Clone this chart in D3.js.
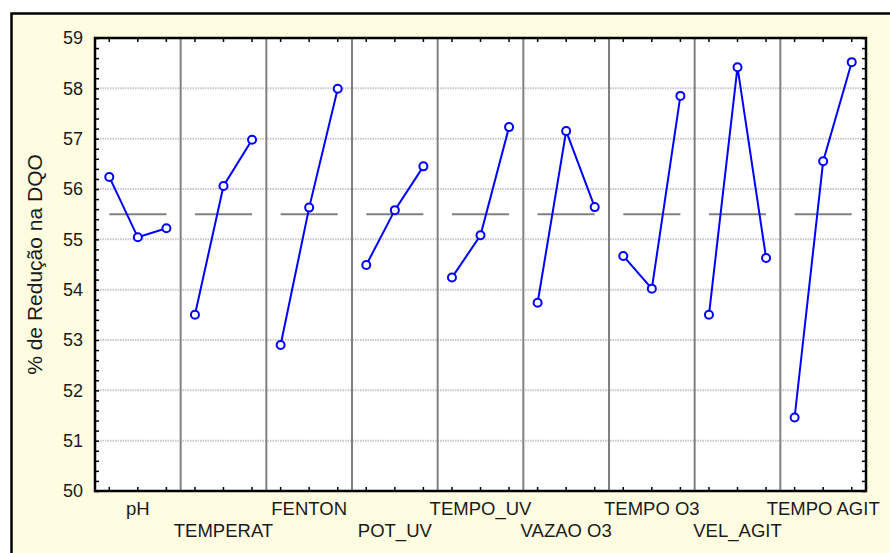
<!DOCTYPE html>
<html>
<head>
<meta charset="utf-8">
<script src="https://cdn.jsdelivr.net/npm/d3@7"></script>
<style>
html,body{margin:0;padding:0;background:#fff;}
svg text{font-family:"Liberation Sans",Arial,sans-serif;fill:#1a1a1a;}
</style>
</head>
<body>
<svg id="chart" width="890" height="553"></svg>
<script>
const factors = ["pH","TEMPERAT","FENTON","POT_UV","TEMPO_UV","VAZAO O3","TEMPO O3","VEL_AGIT","TEMPO AGIT"];
const levelValues = [
  [56.24, 55.04, 55.22],
  [53.50, 56.06, 56.98],
  [52.90, 55.63, 57.99],
  [54.49, 55.58, 56.45],
  [54.24, 55.08, 57.23],
  [53.74, 57.15, 55.64],
  [54.67, 54.02, 57.85],
  [53.50, 58.42, 54.63],
  [51.46, 56.55, 58.52]
];
const grandMean = 55.5;
const yTicks = [50,51,52,53,54,55,56,57,58,59];
const yTitle = "% de Redução na DQO";

const svg = d3.select("#chart");
const W = 890, H = 553;
const L = 95, R = 866, T = 38, B = 491;

// outer frame
svg.append("rect").attr("x",11.5).attr("y",13.5).attr("width",W).attr("height",H)
  .attr("fill","#fffde1").attr("stroke","#000").attr("stroke-width",2.5);

// plot background
svg.append("rect").attr("x",L).attr("y",T).attr("width",R-L).attr("height",B-T).attr("fill","#fff");

const y = d3.scaleLinear().domain([50,59]).range([B,T]);
const keys = [];
factors.forEach((f,i)=>[0,1,2].forEach(j=>keys.push(i+"_"+j)));
const x = d3.scaleBand().domain(keys).range([L,R]).paddingInner(0).paddingOuter(0);
const px = (i,j)=> x(i+"_"+j) + x.bandwidth()/2;
const panelX0 = i => x(i+"_0");

// horizontal grid
svg.append("g").selectAll("line").data(yTicks.slice(1,-1)).join("line")
  .attr("x1",L).attr("x2",R).attr("y1",d=>y(d)).attr("y2",d=>y(d))
  .attr("stroke","#c8c8c8").attr("stroke-width",2).attr("stroke-dasharray","1.5,1");

// vertical separators
svg.append("g").selectAll("line").data(d3.range(1,factors.length)).join("line")
  .attr("x1",d=>panelX0(d)).attr("x2",d=>panelX0(d)).attr("y1",T).attr("y2",B)
  .attr("stroke","#808080").attr("stroke-width",2);

// mean lines
svg.append("g").selectAll("line").data(factors.map((f,i)=>i)).join("line")
  .attr("x1",i=>px(i,0)).attr("x2",i=>px(i,2)).attr("y1",y(grandMean)).attr("y2",y(grandMean))
  .attr("stroke","#808080").attr("stroke-width",2);

// axes
const minorTicks = d3.range(50,59.001,0.2);
const leftAx = d3.axisRight(y).tickValues(minorTicks).tickSize(4).tickFormat("");
const rightAx = d3.axisLeft(y).tickValues(minorTicks).tickSize(4).tickFormat("");
const topAx = d3.axisBottom(x).tickSize(4).tickFormat("");
const botAx = d3.axisTop(x).tickSize(4).tickFormat("");
function styleAx(g){g.select(".domain").remove(); g.selectAll("line").attr("stroke","#000").attr("stroke-width",1.5);}
svg.append("g").attr("transform",`translate(${L},0)`).call(leftAx).call(styleAx);
svg.append("g").attr("transform",`translate(${R},0)`).call(rightAx).call(styleAx);
svg.append("g").attr("transform",`translate(0,${T})`).call(topAx).call(styleAx);
svg.append("g").attr("transform",`translate(0,${B})`).call(botAx).call(styleAx);

// plot border
svg.append("rect").attr("x",L).attr("y",T).attr("width",R-L).attr("height",B-T)
  .attr("fill","none").attr("stroke","#000").attr("stroke-width",2.5);

// y tick labels
svg.append("g").selectAll("text").data(yTicks).join("text")
  .attr("x",L-12).attr("y",d=>y(d)).attr("dy","0.36em").attr("text-anchor","end")
  .style("font-size","18px").text(d=>d);

// y title
svg.append("text").attr("transform",`translate(42,${(T+B)/2}) rotate(-90)`)
  .attr("text-anchor","middle").style("font-size","21px").text(yTitle);

// x labels
svg.append("g").selectAll("text").data(factors).join("text")
  .attr("x",(d,i)=>px(i,1)).attr("y",(d,i)=> i%2===0 ? 515 : 537)
  .attr("text-anchor","middle").style("font-size","18.5px").text(d=>d);

// lines and points
const line = d3.line().x(d=>d[0]).y(d=>d[1]);
levelValues.forEach((vals,i)=>{
  const pts = vals.map((v,j)=>[px(i,j), y(v)]);
  svg.append("path").attr("d",line(pts)).attr("fill","none").attr("stroke","#0000ff").attr("stroke-width",2);
  svg.append("g").selectAll("circle").data(pts).join("circle")
    .attr("cx",d=>d[0]).attr("cy",d=>d[1]).attr("r",4)
    .attr("fill","#fff").attr("stroke","#0000ff").attr("stroke-width",2);
});
</script>
</body>
</html>
